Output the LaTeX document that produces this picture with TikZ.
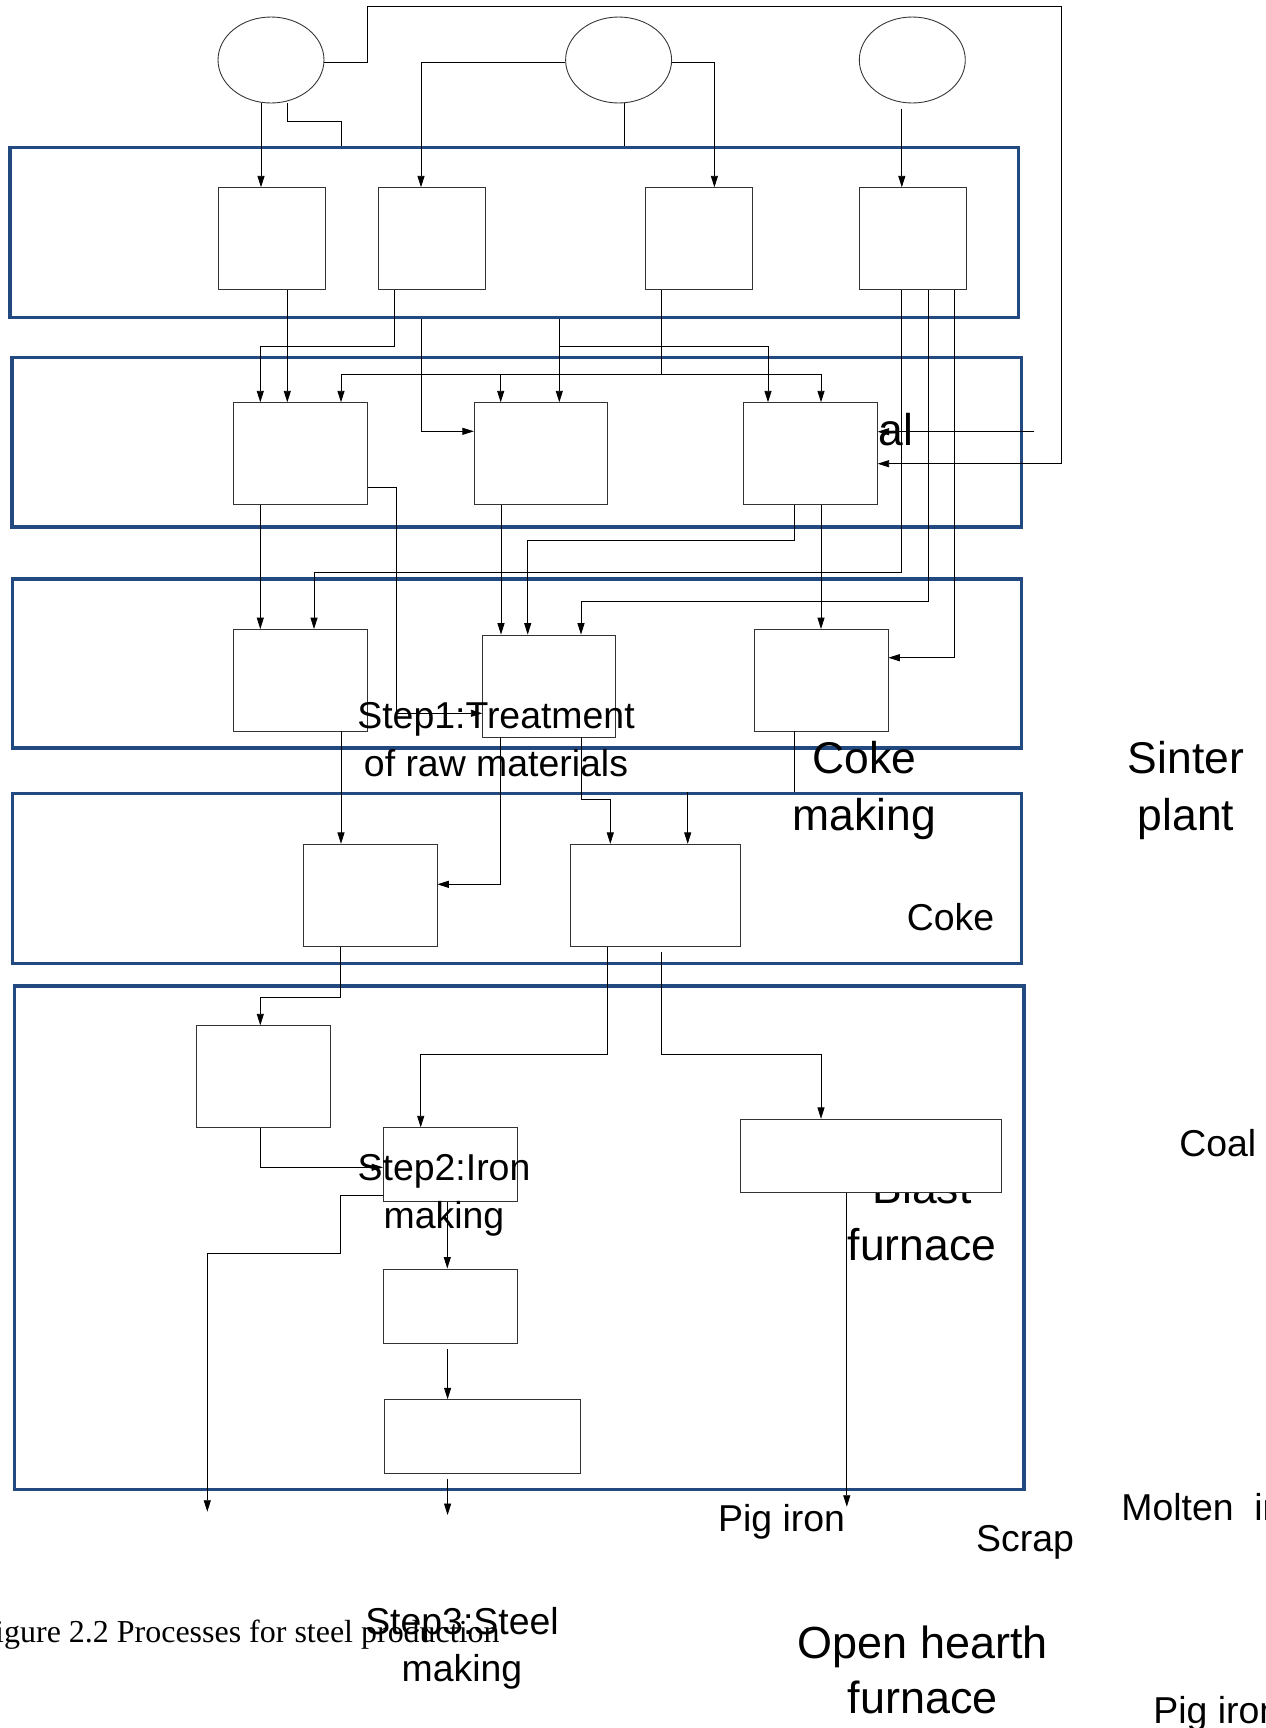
\documentclass[tikz,border=0pt]{standalone}
\usepackage{fontspec}
\setmainfont{Liberation Sans}
\newfontfamily\capfont{Liberation Serif}
\usetikzlibrary{arrows.meta,shapes.geometric}
\definecolor{band}{HTML}{234A80}
\definecolor{edge}{HTML}{333333}

\begin{document}
\begin{tikzpicture}[x=0.02cm,y=-0.02cm,
    proc/.style={rectangle,draw=edge,fill=white,line width=.5pt,inner sep=0pt},
    src/.style={ellipse,draw=edge,line width=.5pt,inner sep=0pt,
        minimum width=2.12cm,minimum height=1.72cm},
    stage/.style={rectangle,draw=band,line width=1.9pt,inner sep=0pt},
    link/.style={line width=.45pt},
    flow/.style={link,-{Triangle[length=6.5pt,width=4pt]}},
    lbl/.style={inner sep=0pt,anchor=base,align=center,
        font=\fontsize{21.3}{27}\selectfont},
    biglbl/.style={lbl,font=\fontsize{25.3}{32.4}\selectfont}]
  \useasboundingbox (0,0) rectangle (1265,1728);
  \clip (0,0) rectangle (1265,1728);

  % stages
  \node[stage,minimum width=20.18cm,minimum height=3.41cm] (band1) at (514.4,232.4) {};
  \node[stage,minimum width=20.19cm,minimum height=3.39cm] (band2) at (516.8,442.3) {};
  \node[stage,minimum width=20.19cm,minimum height=3.38cm] (band3) at (516.9,663.5) {};
  \node[stage,minimum width=20.19cm,minimum height=3.40cm] (band4) at (516.9,878.6) {};
  \node[stage,minimum width=20.19cm,minimum height=10.07cm] (band5) at (519.3,1237.8) {};

  % label partly hidden behind the blast furnace box
  \node[biglbl] (blast) at (922,1260) {Blast\\furnace};

  % sources
  \node[src] (e1) at (271,60) {};
  \node[src] (e2) at (618.6,60) {};
  \node[src] (e3) at (912.3,60) {};

  % boxes
  \node[proc,minimum width=2.14cm,minimum height=2.04cm] (b11) at (271.5,238.7) {};
  \node[proc,minimum width=2.14cm,minimum height=2.04cm] (b12) at (431.5,238.7) {};
  \node[proc,minimum width=2.14cm,minimum height=2.04cm] (b13) at (698.5,238.7) {};
  \node[proc,minimum width=2.14cm,minimum height=2.04cm] (b14) at (912.5,238.7) {};

  \node[proc,minimum width=2.67cm,minimum height=2.04cm] (b21) at (300.4,453.7) {};
  \node[proc,minimum width=2.67cm,minimum height=2.04cm] (b22) at (541,453.7) {};
  \node[proc,minimum width=2.67cm,minimum height=2.04cm] (b23) at (810.5,453.7) {};

  \node[proc,minimum width=2.67cm,minimum height=2.03cm] (b31) at (300.5,680.2) {};
  \node[proc,minimum width=2.66cm,minimum height=2.04cm] (b32) at (549.2,686) {};
  \node[proc,minimum width=2.67cm,minimum height=2.03cm] (b33) at (821.2,680.2) {};

  \node[proc,minimum width=2.67cm,minimum height=2.05cm] (b41) at (370.2,895.5) {};
  \node[proc,minimum width=3.40cm,minimum height=2.05cm] (b42) at (655.4,895.5) {};

  \node[proc,minimum width=2.68cm,minimum height=2.04cm] (b51) at (263.3,1076.7) {};
  \node[proc,minimum width=2.67cm,minimum height=1.47cm] (b52) at (450.2,1164.5) {};
  \node[proc,minimum width=5.23cm,minimum height=1.47cm] (b53) at (871.2,1156) {};
  \node[proc,minimum width=2.67cm,minimum height=1.49cm] (b54) at (450.2,1306.2) {};
  \node[proc,minimum width=3.93cm,minimum height=1.47cm] (b55) at (482.3,1436.4) {};

  % sources to first row
  \draw[flow] (e1.east |- 0,62.7) -| (367.7,6) -| (1061,463.7) -- (b23.east |- 0,463.7);
  \draw[flow] (e1.south -| 261,0) -- (b11.north -| 261,0);
  \draw[link] (e1.south -| 287.7,0) |- (341.8,121.3) -- (band1.north -| 341.8,0);
  \draw[flow] (e2.west |- 0,62.7) -| (b12.north -| 421,0);
  \draw[link] (e2.south -| 623.9,0) -- (band1.north -| 623.9,0);
  \draw[flow] (e2.east |- 0,62.7) -| (b13.north -| 714.4,0);
  \draw[flow,shorten <=3pt] (e3.south -| 901.8,0) -- (b14.north -| 901.8,0);

  % first row to second row
  \draw[flow] (b11.south -| 287.3,0) -- (b21.north -| 287.3,0);
  \draw[flow] (b12.south -| 394.4,0) |- (260.3,346.3) -- (b21.north -| 260.3,0);
  \draw[flow] (band1.south -| 421,0) |- (b22.west |- 0,431.3);
  \coordinate (j1) at (559.3,346.3);
  \draw[flow] (band1.south -| 559.3,0) -- (b22.north -| 559.3,0);
  \draw[flow] (j1) -| (b23.north -| 768,0);
  \coordinate (j2) at (661,374.7);
  \draw[link] (b13.south -| 661,0) -- (j2);
  \draw[flow] (j2) -| (b21.north -| 341,0);
  \draw[flow] (j2) -| (b23.north -| 821,0);
  \draw[flow] (j2 -| 500.7,0) -- (b22.north -| 500.7,0);
  \coordinate (coalin) at (1034.3,431.7);
  \draw[flow] (coalin) -- (b23.east |- coalin);

  % second row to third row
  \draw[flow] (b21.east |- 0,487.7) -| (396.7,713.3) -- (b32.west |- 0,713.3);
  \draw[flow] (b21.south -| 260.3,0) -- (b31.north -| 260.3,0);
  \draw[flow] (b14.south -| 901.8,0) |- (314,572.7) -- (b31.north -| 314,0);
  \draw[flow] (b22.south -| 501,0) -- (b32.north -| 501,0);
  \draw[flow] (b23.south -| 794.7,0) |- (527.7,540.3) -- (b32.north -| 527.7,0);
  \draw[flow] (b14.south -| 928,0) |- (581,601.3) -- (b32.north -| 581,0);
  \draw[flow] (b23.south -| 821,0) -- (b33.north -| 821,0);
  \draw[flow] (b14.south -| 954.7,0) |- (b33.east |- 0,657.7);

  % third row to fourth row
  \draw[flow] (b31.south -| 341,0) -- (b41.north -| 341,0);
  \draw[flow] (b32.south -| 500.7,0) |- (b41.east |- 0,884.3);
  \draw[flow] (b32.south -| 581,0) |- (610.3,799.3) -- (b42.north -| 610.3,0);
  \draw[link] (b33.south -| 794.7,0) -- (band4.north -| 794.7,0);
  \draw[flow] (band4.north -| 687.7,0) -- (b42.north -| 687.7,0);

  % fourth row to last stage
  \draw[flow] (b41.south -| 340.7,0) |- (260.3,997.3) -- (b51.north -| 260.3,0);
  \draw[flow] (b42.south -| 607.3,0) |- (420.7,1054) -- (b52.north -| 420.7,0);
  \draw[flow,shorten <=3pt] (b42.south -| 661,0) |- (821,1054) -- (b53.north -| 821,0);
  \draw[flow] (b51.south -| 260.7,0) |- (b52.west |- 0,1167.3);
  \coordinate (out1) at (207.3,1511.7);
  \draw[flow] (b52.west |- 0,1195.3) -| (340.7,1253.3) -| (out1);
  \draw[flow] (b52.south -| 447.3,0) -- (b54.north -| 447.3,0);
  \draw[flow,shorten <=3pt] (b54.south -| 447.6,0) -- (b55.north -| 447.6,0);
  \coordinate (out2) at (447.6,1515);
  \draw[flow,shorten <=3pt] (b55.south -| 447.6,0) -- (out2);
  \coordinate (out3) at (846.8,1506.7);
  \draw[flow] (b53.south -| 846.8,0) -- (out3);

  % labels
  \node[lbl] (step1) at (496,776) {Step1:Treatment\\of raw materials};
  \node[biglbl,anchor=base west] (coaltail) at (878,445) {al};
  \node[biglbl] (coking) at (864.3,830) {Coke\\making};
  \node[biglbl] (sinter) at (1186,830) {Sinter\\plant};
  \node[lbl] (coke) at (950.5,930) {Coke};
  \node[lbl,anchor=base west] (coal) at (1179,1156.7) {Coal};
  \node[lbl] (step2) at (444,1228.3) {Step2:Iron\\making};
  \node[lbl,anchor=base west] (pig1) at (717.7,1531.7) {Pig iron};
  \node[lbl,anchor=base west] (scrap) at (975.8,1551.7) {Scrap};
  \node[lbl,anchor=base west] (molten) at (1121,1520.7) {Molten\ \ iron};
  \node[lbl,anchor=base west] (pig2) at (1153,1723.3) {Pig iron};
  \node[lbl] (step3) at (462,1681.7) {Step3:Steel\\making};
  \node[lbl,font=\fontsize{25.6}{31.3}\selectfont] (hearth) at (923,1713) {Open hearth\\furnace};
  \node[anchor=base east,inner sep=0pt,font=\capfont\fontsize{18.2}{22}\selectfont]
    (caption) at (500,1642) {Figure 2.2 Processes for steel production};
\end{tikzpicture}
\end{document}
